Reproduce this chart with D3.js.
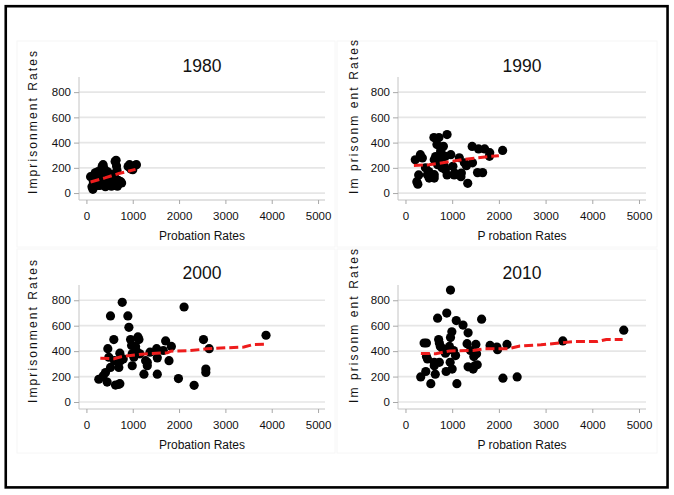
<!DOCTYPE html>
<html><head><meta charset="utf-8">
<script src="https://cdn.jsdelivr.net/npm/d3@7"></script>
<style>
body{margin:0;background:#fff}
svg{display:block}
text{font-family:"Liberation Sans",Arial,Helvetica,sans-serif;fill:#111}
</style>
</head><body>
<svg id="c" width="674" height="495"></svg>
<script>
// ---------- data ----------
const xTicks = [0, 1000, 2000, 3000, 4000, 5000];
const yTicks = [0, 200, 400, 600, 800];
const years = ["1980", "1990", "2000", "2010"];

const pts1980 = [[90,130],[120,50],[140,30],[150,90],[170,120],[190,160],[210,75],[230,100],[250,170],[270,140],
 [290,60],[300,160],[320,110],[340,210],[360,225],[380,195],[400,80],[410,50],[430,140],[450,170],
 [470,100],[490,60],[500,80],[520,150],[540,55],[560,110],[580,90],[600,60],[620,250],[640,260],
 [650,215],[660,180],[670,55],[690,100],[710,75],[740,90],[760,80],[900,210],[930,225],[960,190],
 [1000,185],[1050,220],[1080,225],[250,60],[330,70],[450,65],[560,70],[350,130],[200,130],[600,140]];

const pts1990 = [[210,264],[319,304],[283,144],[243,90],[265,70],[428,200],[500,170],[470,146],[565,144],[507,119],
 [609,440],[717,440],[674,384],[891,464],[754,330],[645,290],[826,290],[971,304],[783,200],[891,144],
 [1043,144],[1188,130],[1152,280],[1261,240],[1333,77],[1428,370],[1435,240],[1543,162],[1652,162],[1565,350],
 [1695,350],[1804,320],[1798,291],[2080,338],[616,265],[725,265],[855,291],[616,146],[616,119],[689,225],
 [834,212],[855,185],[1051,159],[1015,212],[1196,159],[1305,217],[362,278],[580,132],[761,344],[812,371]];

const pts2000 = [[267,179],[361,205],[412,232],[448,157],[462,419],[520,272],[520,677],[484,352],[592,491],[606,325],
 [628,133],[700,139],[722,144],[700,272],[722,384],[736,325],[773,784],[794,339],[895,677],[917,587],
 [953,491],[975,445],[989,285],[989,379],[1025,352],[1061,437],[1112,512],[1134,491],[1155,379],[1083,400],
 [1242,219],[1278,325],[1314,285],[1314,312],[1372,392],[1516,419],[1530,347],[1530,219],[1660,405],[1710,480],
 [1783,325],[1834,437],[1986,184],[2108,747],[2325,131],[2527,491],[2578,259],[2578,232],[2650,419],[3877,525]];

const pts2010 = [[326,197],[399,464],[449,464],[449,357],[471,339],[435,240],[543,144],[616,312],[638,219],[616,285],
 [688,659],[710,491],[725,464],[746,437],[725,312],[797,419],[870,240],[884,699],[855,384],[906,405],
 [942,437],[964,880],[964,507],[993,552],[957,312],[1000,259],[1029,405],[1072,365],[1087,640],[1101,144],
 [1232,605],[1341,544],[1319,459],[1341,277],[1391,405],[1449,259],[1464,357],[1485,285],[1507,453],[1522,379],
 [1536,293],[1630,651],[1811,445],[1957,432],[1971,411],[2087,187],[2174,453],[2391,197],[3369,480],[4674,565]];

const fit1980 = [[90,88],[400,120],[700,155],[1060,188]];
const fit1990 = [[180,218],[500,224],[800,240],[1200,264],[1500,278],[1800,290],[2000,296]];
const fit2000 = [[300,345],[600,340],[750,356],[1000,368],[1400,382],[1750,387],[1820,400],[2200,403],[2600,418],[3000,426],[3400,432],[3600,452],[3900,455]];
const fit2010 = [[330,382],[650,380],[950,402],[1450,405],[1700,418],[2200,418],[2450,440],[2900,450],[3600,475],[4100,475],[4300,492],[4650,492]];

// ---------- layout ----------
const svg = d3.select("#c");
const panels = [
  {title: years[0], pts: pts1980, fit: fit1980, x0: 79,  y0: 77,  w: 246, h: 123, ylab: "Imprisonment Rates",   xlab: "Probation Rates",  lx: 33,  ly: 194, ty: 71.5},
  {title: years[1], pts: pts1990, fit: fit1990, x0: 398, y0: 77,  w: 248, h: 123, ylab: "Im prisonm ent Rates", xlab: "P robation Rates", lx: 354, ly: 194, ty: 71.5},
  {title: years[2], pts: pts2000, fit: fit2000, x0: 79,  y0: 285, w: 246, h: 124, ylab: "Imprisonment Rates",   xlab: "Probation Rates",  lx: 33,  ly: 403, ty: 279},
  {title: years[3], pts: pts2010, fit: fit2010, x0: 398, y0: 285, w: 248, h: 124, ylab: "Im prisonm ent Rates", xlab: "P robation Rates", lx: 354, ly: 403, ty: 279}
];
const boxes = [[17,41,318,206],[337,41,320,206],[17,249,318,204],[337,249,320,204]];

// very faint panel boxes
boxes.forEach(b => svg.append("rect").attr("x", b[0]).attr("y", b[1]).attr("width", b[2]).attr("height", b[3])
  .attr("fill", "none").attr("stroke", "#f6f6f6").attr("stroke-width", 1));

const fmt = d3.format("d");

panels.forEach(p => {
  const x = d3.scaleLinear().domain([-160, 5150]).range([p.x0, p.x0 + p.w]);
  const y = d3.scaleLinear().domain([-55, 920]).range([p.y0 + p.h, p.y0]);
  const g = svg.append("g");
  const bottom = p.y0 + p.h;

  // gridlines
  g.selectAll(".grid").data(yTicks).enter().append("line")
    .attr("x1", p.x0).attr("x2", p.x0 + p.w)
    .attr("y1", d => y(d)).attr("y2", d => y(d))
    .attr("stroke", "#e6e6e6").attr("stroke-width", 1.7);

  // y axis
  const ya = g.append("g").attr("transform", `translate(${p.x0},0)`)
    .call(d3.axisLeft(y).tickValues(yTicks).tickFormat(fmt).tickSize(5).tickPadding(3));
  ya.select(".domain").attr("stroke", "#c4c4c4").attr("d", `M0,${p.y0}V${bottom}`);
  ya.selectAll(".tick line").attr("stroke", "#a8a8a8");
  ya.selectAll(".tick text").attr("font-size", "11.5px").attr("fill", "#111")
    .attr("font-family", '"Liberation Sans",Arial,sans-serif');

  // x axis
  const xa = g.append("g").attr("transform", `translate(0,${bottom})`)
    .call(d3.axisBottom(x).tickValues(xTicks).tickFormat(fmt).tickSize(4).tickPadding(8));
  xa.select(".domain").attr("stroke", "#c4c4c4").attr("d", `M${p.x0},0H${p.x0 + p.w}`);
  xa.selectAll(".tick line").attr("stroke", "#a8a8a8");
  xa.selectAll(".tick text").attr("font-size", "11.5px").attr("fill", "#111")
    .attr("font-family", '"Liberation Sans",Arial,sans-serif');

  // points
  g.selectAll(".pt").data(p.pts).enter().append("circle")
    .attr("cx", d => x(d[0])).attr("cy", d => y(d[1])).attr("r", 4.6).attr("fill", "#000");

  // fit line
  g.append("path").datum(p.fit)
    .attr("d", d3.line().x(d => x(d[0])).y(d => y(d[1])))
    .attr("fill", "none").attr("stroke", "#ee1c1c").attr("stroke-width", 3)
    .attr("stroke-dasharray", "9,4");

  // title
  g.append("text").attr("x", p.x0 + p.w / 2).attr("y", p.ty).attr("text-anchor", "middle")
    .attr("font-size", "17.5px").text(p.title);

  // x label
  g.append("text").attr("x", p.x0 + p.w / 2).attr("y", bottom + 40).attr("text-anchor", "middle")
    .attr("font-size", "12px").text(p.xlab);

  // y label
  g.append("text").attr("transform", `translate(${p.lx},${p.ly}) rotate(-90)`)
    .attr("text-anchor", "start").attr("dy", "0.35em")
    .attr("font-size", "12px").attr("letter-spacing", "2.1px").text(p.ylab);
});

// outer frame
svg.append("rect").attr("x", 5.75).attr("y", 6.2).attr("width", 661.8).attr("height", 481.2)
  .attr("fill", "none").attr("stroke", "#000").attr("stroke-width", 2.6);
</script>
</body></html>
